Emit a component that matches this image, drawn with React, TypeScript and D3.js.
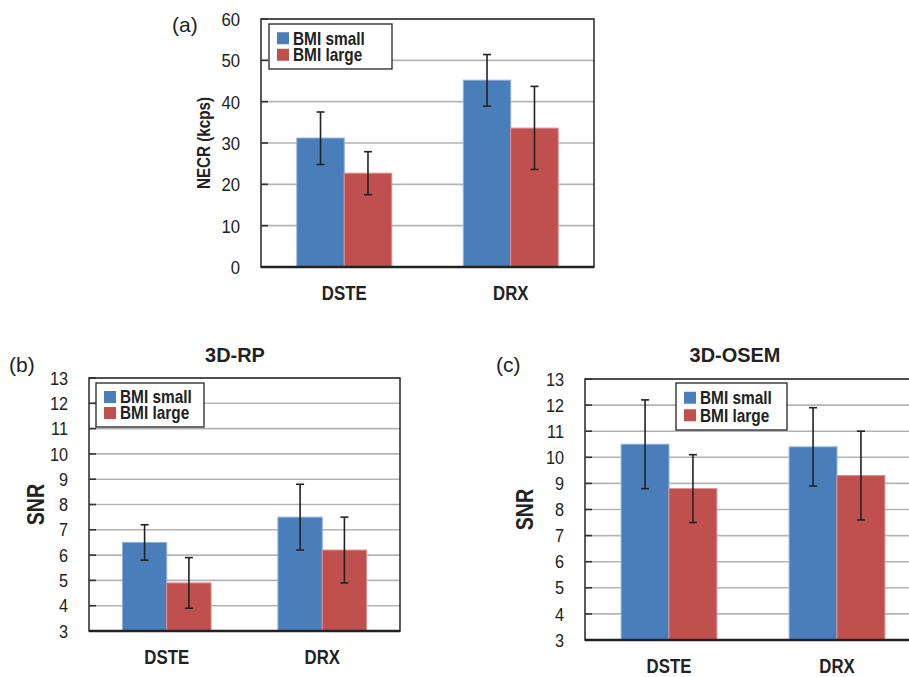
import React from "react";
import { scaleBand, scaleLinear, range } from "d3";

// shared categories / series
const categories = ["DSTE", "DRX"];
const seriesNames = ["BMI small", "BMI large"];
const seriesColors = ["#4A7EBB", "#C0504D"];
const seriesEdges = ["#8FB0DA", "#DE8C8A"];

// (a) NECR
const necrSmall = [31.2, 45.2];
const necrSmallLo = [24.8, 38.9];
const necrSmallHi = [37.5, 51.4];
const necrLarge = [22.7, 33.6];
const necrLargeLo = [17.5, 23.6];
const necrLargeHi = [27.9, 43.7];
const necrTicks = [0, 10, 20, 30, 40, 50, 60];

// (b) 3D-RP SNR
const rpSmall = [6.5, 7.5];
const rpSmallLo = [5.8, 6.2];
const rpSmallHi = [7.2, 8.8];
const rpLarge = [4.9, 6.2];
const rpLargeLo = [3.9, 4.9];
const rpLargeHi = [5.9, 7.5];

// (c) 3D-OSEM SNR
const osemSmall = [10.5, 10.4];
const osemSmallLo = [8.8, 8.9];
const osemSmallHi = [12.2, 11.9];
const osemLarge = [8.8, 9.3];
const osemLargeLo = [7.5, 7.6];
const osemLargeHi = [10.1, 11.0];

const snrTicks = [3, 4, 5, 6, 7, 8, 9, 10, 11, 12, 13];

const FONT = "'Liberation Sans', Arial, Helvetica, sans-serif";

// condensed-looking text: horizontal squeeze like the Helvetica Narrow in the original
function SText({
  x, y, sx = 1, size, bold = false, anchor = "start", dy, rotate = 0, children,
}: {
  x: number; y: number; sx?: number; size: number; bold?: boolean;
  anchor?: "start" | "middle" | "end"; dy?: string; rotate?: number; children: React.ReactNode;
}) {
  return (
    <text
      transform={`translate(${x},${y}) rotate(${rotate}) scale(${sx},1)`}
      textAnchor={anchor}
      dy={dy}
      fontSize={size}
      fontWeight={bold ? "bold" : "normal"}
      fill="#222"
      fontFamily={FONT}
    >
      {children}
    </text>
  );
}

type Series = { values: number[]; lo: number[]; hi: number[] };

type PanelProps = {
  box: { left: number; right: number; top: number; bottom: number };
  domain: [number, number];
  ticks: number[];
  series: Series[];
  tickSize: number;
  yTitle: string;
  yTitleX: number;
  yTitleSize: number;
  yTitleSx: number;
  title?: string;
  titleX?: number;
  titleY?: number;
  tag: string;
  tagX: number;
  tagY: number;
  legend: { x: number; y: number; w: number; h: number };
  catY: number;
};

function Panel(p: PanelProps) {
  const { box } = p;
  const y = scaleLinear().domain(p.domain).range([box.bottom, box.top]);
  const x = scaleBand<string>().domain(categories).range([box.left, box.right]);
  const inner = scaleBand<string>()
    .domain(seriesNames)
    .range([x.bandwidth() * 0.215, x.bandwidth() * 0.785]);
  const capW = 4;
  const midY = (box.top + box.bottom) / 2;

  return (
    <g>
      {/* gridlines */}
      {p.ticks.map((t) => (
        <line key={"g" + t} x1={box.left} x2={box.right} y1={y(t)} y2={y(t)} stroke="#b4b4b4" strokeWidth={1.6} />
      ))}
      {/* tick marks */}
      {p.ticks.map((t) => (
        <line key={"t" + t} x1={box.left} x2={box.left + 7} y1={y(t)} y2={y(t)} stroke="#333" strokeWidth={1.6} />
      ))}
      {/* bars */}
      {categories.map((c, ci) =>
        p.series.map((s, si) => {
          const bx = x(c)! + inner(seriesNames[si])!;
          return (
            <rect
              key={c + si}
              x={bx}
              y={y(s.values[ci])}
              width={inner.bandwidth()}
              height={box.bottom - y(s.values[ci])}
              fill={seriesColors[si]}
              stroke={seriesEdges[si]}
              strokeWidth={1}
            />
          );
        })
      )}
      {/* error bars */}
      {categories.map((c, ci) =>
        p.series.map((s, si) => {
          const cx = x(c)! + inner(seriesNames[si])! + inner.bandwidth() / 2;
          return (
            <g key={"e" + c + si} stroke="#222" strokeWidth={1.6}>
              <line x1={cx} x2={cx} y1={y(s.lo[ci])} y2={y(s.hi[ci])} />
              <line x1={cx - capW} x2={cx + capW} y1={y(s.lo[ci])} y2={y(s.lo[ci])} />
              <line x1={cx - capW} x2={cx + capW} y1={y(s.hi[ci])} y2={y(s.hi[ci])} />
            </g>
          );
        })
      )}
      {/* frame */}
      <rect x={box.left} y={box.top} width={box.right - box.left} height={box.bottom - box.top} fill="none" stroke="#333" strokeWidth={1.6} />
      <line x1={box.left} x2={box.right} y1={box.bottom} y2={box.bottom} stroke="#222" strokeWidth={2.4} />
      {/* y tick labels */}
      {p.ticks.map((t) => (
        <SText key={"l" + t} x={box.left - 21} y={y(t)} dy="0.36em" anchor="end" size={p.tickSize} sx={0.88}>
          {t}
        </SText>
      ))}
      {/* category labels */}
      {categories.map((c) => (
        <SText key={"c" + c} x={x(c)! + x.bandwidth() / 2} y={p.catY} anchor="middle" size={21} bold sx={0.8}>
          {c}
        </SText>
      ))}
      {/* y title */}
      <SText x={p.yTitleX} y={midY} rotate={-90} anchor="middle" dy="0.36em" size={p.yTitleSize} bold sx={p.yTitleSx}>
        {p.yTitle}
      </SText>
      {p.title && (
        <SText x={p.titleX!} y={p.titleY!} anchor="middle" size={21} bold sx={0.95}>
          {p.title}
        </SText>
      )}
      <SText x={p.tagX} y={p.tagY} size={21}>
        {p.tag}
      </SText>
      {/* legend */}
      <g>
        <rect x={p.legend.x} y={p.legend.y} width={p.legend.w} height={p.legend.h} fill="#fff" stroke="#333" strokeWidth={1.4} />
        {range(seriesNames.length).map((i) => {
          const rowY = p.legend.y + 6 + i * (p.legend.h - 12) / 2 + (p.legend.h - 12) / 4;
          return (
            <g key={"lg" + i}>
              <rect x={p.legend.x + 8} y={rowY - 6} width={12} height={12} fill={seriesColors[i]} />
              <SText x={p.legend.x + 24} y={rowY} dy="0.36em" size={17.5} bold sx={0.88}>
                {seriesNames[i]}
              </SText>
            </g>
          );
        })}
      </g>
    </g>
  );
}

export default function App() {
  return (
    <svg
      width={909}
      height={677}
      style={{ position: "fixed", left: 0, top: 0, background: "#fff" }}
    >
      <rect width={909} height={677} fill="#fff" />
      <Panel
        box={{ left: 261, right: 594, top: 19, bottom: 267 }}
        domain={[0, 60]}
        ticks={necrTicks}
        series={[
          { values: necrSmall, lo: necrSmallLo, hi: necrSmallHi },
          { values: necrLarge, lo: necrLargeLo, hi: necrLargeHi },
        ]}
        tickSize={19}
        yTitle="NECR (kcps)"
        yTitleX={203}
        yTitleSize={19}
        yTitleSx={0.8}
        tag="(a)"
        tagX={172}
        tagY={32}
        legend={{ x: 269, y: 24, w: 123, h: 45 }}
        catY={300}
      />
      <Panel
        box={{ left: 89, right: 400, top: 378, bottom: 631 }}
        domain={[3, 13]}
        ticks={snrTicks}
        series={[
          { values: rpSmall, lo: rpSmallLo, hi: rpSmallHi },
          { values: rpLarge, lo: rpLargeLo, hi: rpLargeHi },
        ]}
        tickSize={18.5}
        yTitle="SNR"
        yTitleX={35}
        yTitleSize={24}
        yTitleSx={0.82}
        title="3D-RP"
        titleX={235}
        titleY={362}
        tag="(b)"
        tagX={9}
        tagY={372}
        legend={{ x: 96, y: 383, w: 108, h: 44 }}
        catY={664}
      />
      <Panel
        box={{ left: 585, right: 921, top: 379, bottom: 640 }}
        domain={[3, 13]}
        ticks={snrTicks}
        series={[
          { values: osemSmall, lo: osemSmallLo, hi: osemSmallHi },
          { values: osemLarge, lo: osemLargeLo, hi: osemLargeHi },
        ]}
        tickSize={18.5}
        yTitle="SNR"
        yTitleX={524}
        yTitleSize={24}
        yTitleSx={0.82}
        title="3D-OSEM"
        titleX={735}
        titleY={362}
        tag="(c)"
        tagX={496}
        tagY={372}
        legend={{ x: 676, y: 383, w: 111, h: 47 }}
        catY={673}
      />
    </svg>
  );
}
